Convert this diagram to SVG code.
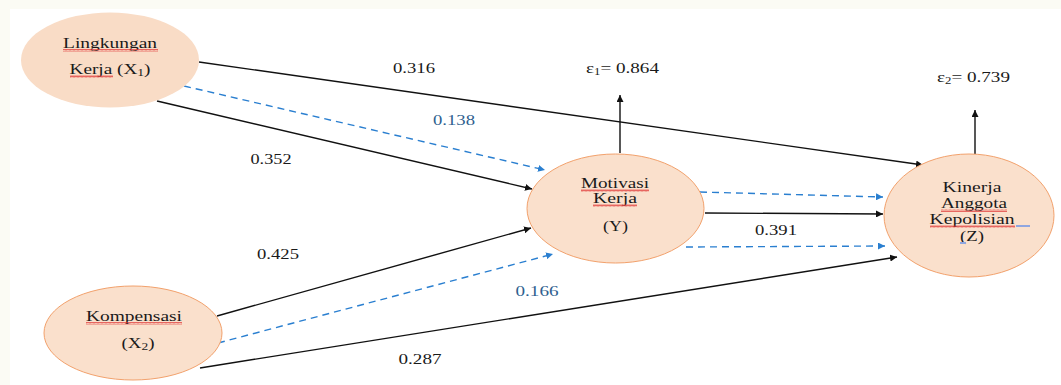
<svg xmlns="http://www.w3.org/2000/svg" width="1061" height="385" viewBox="0 0 1061 385">
<style>
.node{fill:#fae0cc;stroke:#f2a16c;stroke-width:1}
.t{font-family:"Liberation Serif","Times New Roman",serif;font-size:15.5px;fill:#1a1a1a;text-anchor:middle}
.lbl{font-family:"Liberation Serif","Times New Roman",serif;font-size:15px;fill:#1a1a1a;text-anchor:middle}
.blue{fill:#2f5f8f}
.solid{stroke:#111;stroke-width:1.4;fill:none;marker-end:url(#ah)}
.dash{stroke:#2a7fd0;stroke-width:1.4;fill:none;stroke-dasharray:7 5;marker-end:url(#ahb)}
.sq{fill:url(#squig)}
</style>
<defs>
<marker id="ah" viewBox="0 0 10 10" refX="10" refY="5" markerWidth="7" markerHeight="7" markerUnits="userSpaceOnUse" orient="auto"><path d="M0,0 L10,5 L0,10 z" fill="#111"/></marker>
<marker id="ahb" viewBox="0 0 10 10" refX="10" refY="5" markerWidth="7" markerHeight="7" markerUnits="userSpaceOnUse" orient="auto"><path d="M0,0 L10,5 L0,10 z" fill="#2a7fd0"/></marker>
<pattern id="squig" width="4" height="3" patternUnits="userSpaceOnUse"><path d="M0,2.5 L1,0.5 L2,2.5 L3,0.5 L4,2.5" stroke="#e03030" stroke-width="0.7" fill="none"/></pattern>
</defs>
<rect x="0" y="0" width="1061" height="385" fill="#fbfbf4"/>
<rect x="10" y="9" width="1051" height="376" fill="#fff"/>

<g id="connectors">
<line class="solid" x1="199" y1="62" x2="923" y2="165"/>
<line class="dash" x1="184" y1="86" x2="545" y2="170"/>
<line class="solid" x1="157" y1="101" x2="532" y2="189"/>
<line class="solid" x1="217" y1="316" x2="531" y2="228"/>
<line class="dash" x1="218" y1="343" x2="553" y2="254"/>
<line class="solid" x1="200" y1="368" x2="897" y2="257"/>
<line class="dash" x1="700" y1="192" x2="883" y2="197"/>
<line class="solid" x1="705" y1="213" x2="883" y2="214"/>
<line class="dash" x1="686" y1="247" x2="885" y2="246"/>
<line class="solid" x1="620" y1="153" x2="620" y2="95"/>
<line class="solid" x1="975" y1="154" x2="975" y2="110"/>
</g>

<g id="labels">
<text class="lbl" x="414" y="73" textLength="42" lengthAdjust="spacingAndGlyphs">0.316</text>
<text class="lbl blue" x="454" y="125" textLength="42" lengthAdjust="spacingAndGlyphs">0.138</text>
<text class="lbl" x="271" y="164" textLength="41" lengthAdjust="spacingAndGlyphs">0.352</text>
<text class="lbl" x="278" y="259" textLength="42" lengthAdjust="spacingAndGlyphs">0.425</text>
<text class="lbl blue" x="537" y="296" textLength="43" lengthAdjust="spacingAndGlyphs">0.166</text>
<text class="lbl" x="420" y="364" textLength="43" lengthAdjust="spacingAndGlyphs">0.287</text>
<text class="lbl" x="776" y="235" textLength="42" lengthAdjust="spacingAndGlyphs">0.391</text>
<text class="lbl" x="622.5" y="73" textLength="73" lengthAdjust="spacingAndGlyphs">ε<tspan font-size="10" dy="2">1</tspan><tspan dy="-2">= 0.864</tspan></text>
<text class="lbl" x="973.5" y="82" textLength="73" lengthAdjust="spacingAndGlyphs">ε<tspan font-size="10" dy="2">2</tspan><tspan dy="-2">= 0.739</tspan></text>
</g>

<g id="node-x1">
<ellipse cx="110" cy="60" rx="89" ry="47.5" fill="#f9dcc6"/>
<text class="t" x="110" y="48" textLength="94" lengthAdjust="spacingAndGlyphs">Lingkungan</text>
<rect class="sq" x="63" y="49" width="95" height="3"/>
<text class="t" x="110" y="74" textLength="81" lengthAdjust="spacingAndGlyphs">Kerja (X<tspan font-size="11" dy="2">1</tspan><tspan dy="-2">)</tspan></text>
<rect class="sq" x="70" y="75" width="43" height="3"/>
</g>

<g id="node-x2">
<ellipse class="node" cx="133" cy="333" rx="89" ry="47"/>
<text class="t" x="134" y="321" textLength="96" lengthAdjust="spacingAndGlyphs">Kompensasi</text>
<rect class="sq" x="86" y="322" width="96" height="3"/>
<text class="t" x="138" y="348" textLength="33" lengthAdjust="spacingAndGlyphs">(X<tspan font-size="11" dy="2">2</tspan><tspan dy="-2">)</tspan></text>
</g>

<g id="node-y">
<ellipse class="node" cx="615.5" cy="208.5" rx="88.5" ry="54.5"/>
<text class="t" x="615" y="188" textLength="68" lengthAdjust="spacingAndGlyphs">Motivasi</text>
<rect class="sq" x="581" y="189" width="68" height="3"/>
<text class="t" x="615" y="203" textLength="44" lengthAdjust="spacingAndGlyphs">Kerja</text>
<rect class="sq" x="593" y="204" width="44" height="3"/>
<text class="t" x="615.5" y="231" textLength="25" lengthAdjust="spacingAndGlyphs">(Y)</text>
</g>

<g id="node-z">
<ellipse class="node" cx="969" cy="215.5" rx="85" ry="61.5"/>
<text class="t" x="972" y="192" textLength="59" lengthAdjust="spacingAndGlyphs">Kinerja</text>
<text class="t" x="974" y="208" textLength="66" lengthAdjust="spacingAndGlyphs">Anggota</text>
<rect class="sq" x="941" y="209" width="66" height="3"/>
<text class="t" x="972" y="224" textLength="85" lengthAdjust="spacingAndGlyphs">Kepolisian</text>
<rect class="sq" x="930" y="225" width="85" height="3"/>
<rect x="1016" y="225" width="14" height="2" fill="#8fa6e0"/>
<text class="t" x="972" y="241" textLength="24" lengthAdjust="spacingAndGlyphs">(Z)</text>
<rect x="960" y="242" width="6" height="2" fill="#8fa6e0"/>
</g>
</svg>
